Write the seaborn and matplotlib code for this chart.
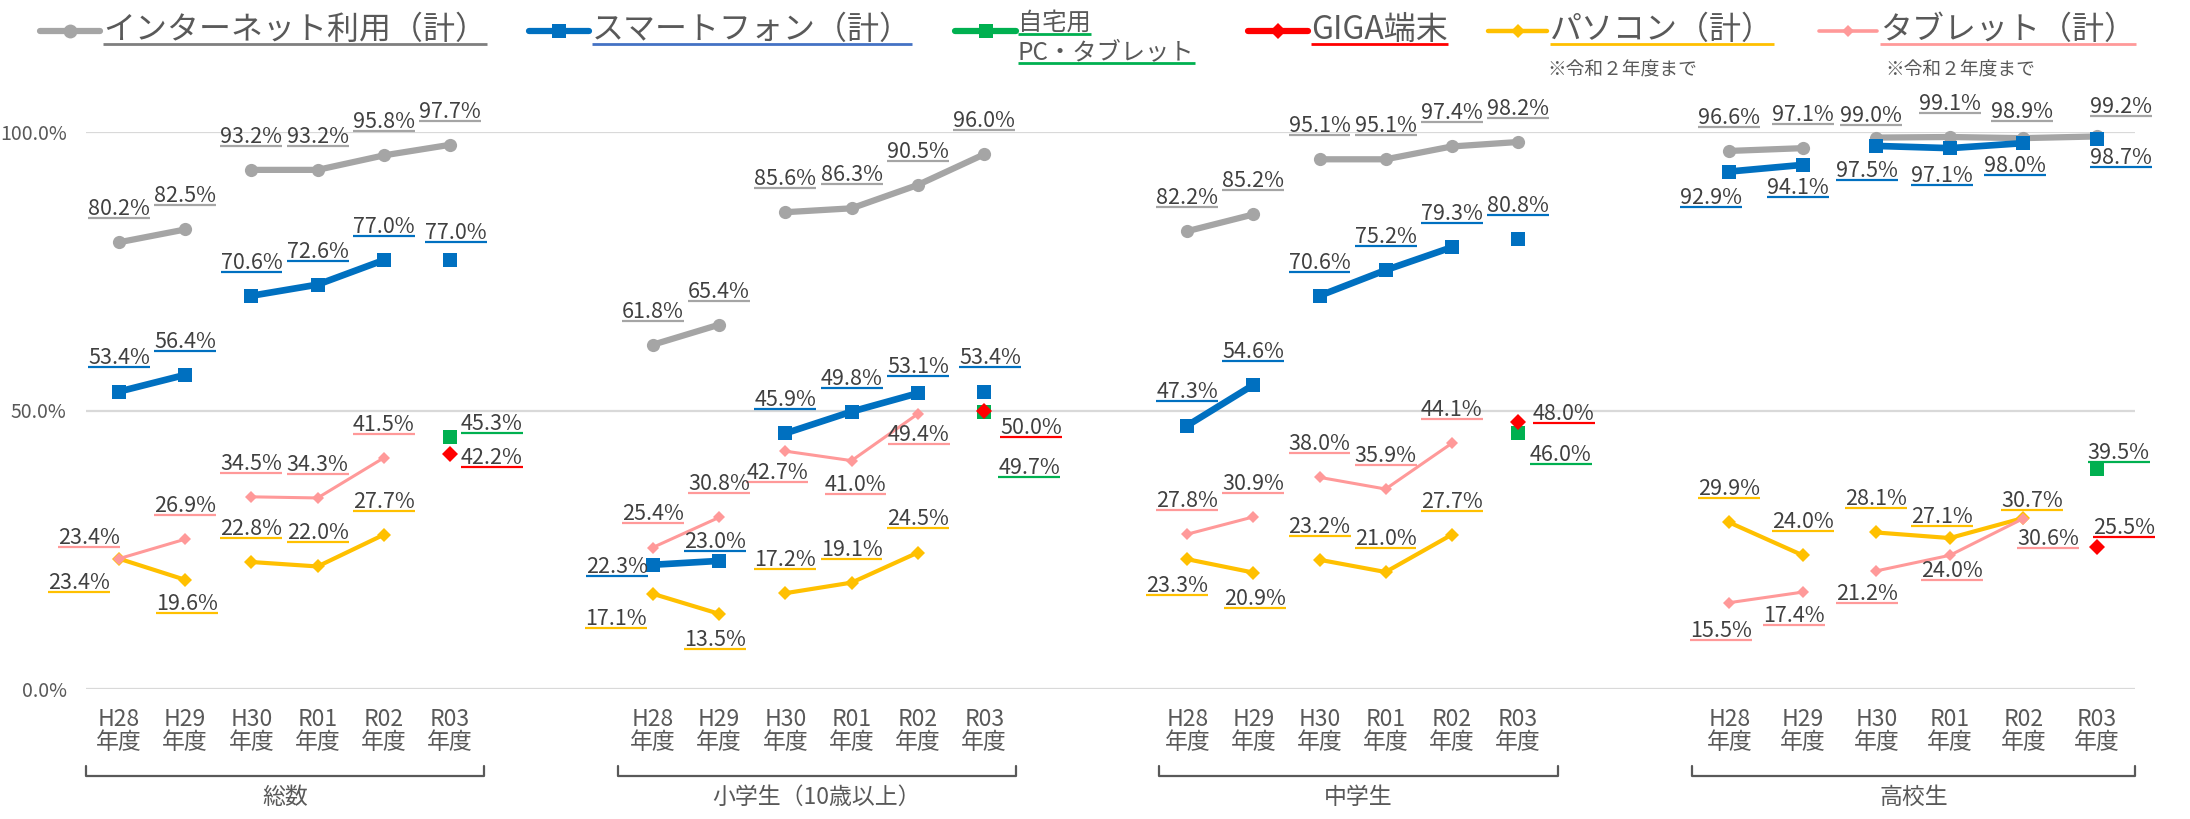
import numpy as np
import pandas as pd
import matplotlib
matplotlib.use("Agg")
import matplotlib.pyplot as plt
import seaborn as sns

sns.set_theme(style="white")
plt.rcParams["font.family"] = ["Noto Sans CJK JP", "DejaVu Sans"]

# ---------------- data ----------------
groups = ["総数", "小学生（10歳以上）", "中学生", "高校生"]
years = ["H28\n年度", "H29\n年度", "H30\n年度", "R01\n年度", "R02\n年度", "R03\n年度"]

internet = {
    "総数": [80.2, 82.5, 93.2, 93.2, 95.8, 97.7],
    "小学生（10歳以上）": [61.8, 65.4, 85.6, 86.3, 90.5, 96.0],
    "中学生": [82.2, 85.2, 95.1, 95.1, 97.4, 98.2],
    "高校生": [96.6, 97.1, 99.0, 99.1, 98.9, 99.2],
}
smartphone = {
    "総数": [53.4, 56.4, 70.6, 72.6, 77.0, 77.0],
    "小学生（10歳以上）": [22.3, 23.0, 45.9, 49.8, 53.1, 53.4],
    "中学生": [47.3, 54.6, 70.6, 75.2, 79.3, 80.8],
    "高校生": [92.9, 94.1, 97.5, 97.1, 98.0, 98.7],
}
home_pc_tablet = {"総数": 45.3, "小学生（10歳以上）": 49.7, "中学生": 46.0, "高校生": 39.5}
giga = {"総数": 42.2, "小学生（10歳以上）": 50.0, "中学生": 48.0, "高校生": 25.5}
pc = {
    "総数": [23.4, 19.6, 22.8, 22.0, 27.7],
    "小学生（10歳以上）": [17.1, 13.5, 17.2, 19.1, 24.5],
    "中学生": [23.3, 20.9, 23.2, 21.0, 27.7],
    "高校生": [29.9, 24.0, 28.1, 27.1, 30.7],
}
tablet = {
    "総数": [23.4, 26.9, 34.5, 34.3, 41.5],
    "小学生（10歳以上）": [25.4, 30.8, 42.7, 41.0, 49.4],
    "中学生": [27.8, 30.9, 38.0, 35.9, 44.1],
    "高校生": [15.5, 17.4, 21.2, 24.0, 30.6],
}

# ---------------- layout / style ----------------
W, H = 2190, 819
first_center = [119, 652.7, 1187.3, 1729.3]
step = [66.2, 66.3, 66.1, 73.5]
brackets = [(86, 484), (618, 1016), (1159, 1558), (1692, 2135)]

C_NET, C_SP, C_HOME, C_GIGA, C_PC, C_TAB = "#A5A5A5", "#0070C0", "#00B050", "#FF0000", "#FFC000", "#FF9999"
TXT = "#404040"
AXT = "#595959"

# segment breaks (index where a new line segment starts)
breaks = {"net": [2], "sp": [2, 5], "pc": [2], "tab": [2], "home": [], "giga": []}

# label offsets (dx, dy) in pixels (dy up), default above the point
DEF = (0, 35)
offsets = {
    ("sp", 0, 5): (6, 29), ("home", 0, 5): (42, 15), ("giga", 0, 5): (42, -2),
    ("tab", 0, 0): (-30, 23), ("pc", 0, 0): (-40, -22), ("pc", 0, 1): (2, -22),
    ("sp", 1, 0): (-36, 0), ("sp", 1, 1): (-4, 21), ("sp", 1, 4): (0, 28), ("sp", 1, 5): (6, 35),
    ("home", 1, 5): (45, -54), ("giga", 1, 5): (47, -16),
    ("tab", 1, 2): (-8, -20), ("tab", 1, 3): (4, -22), ("tab", 1, 4): (1, -19),
    ("pc", 1, 0): (-37, -23), ("pc", 1, 1): (-4, -24),
    ("giga", 2, 5): (46, 10), ("home", 2, 5): (43, -20),
    ("pc", 2, 0): (-10, -25), ("pc", 2, 1): (2, -25),
    ("net", 3, 2): (-5, 23), ("net", 3, 4): (-1, 28), ("net", 3, 5): (24, 31),
    ("sp", 3, 0): (-18, -25), ("sp", 3, 1): (-5, -21), ("sp", 3, 2): (-9, -23),
    ("sp", 3, 3): (-8, -26), ("sp", 3, 4): (-8, -21), ("sp", 3, 5): (24, -17),
    ("home", 3, 5): (22, 18), ("giga", 3, 5): (27, 21),
    ("pc", 3, 3): (-8, 23), ("pc", 3, 4): (9, 19),
    ("tab", 3, 0): (-8, -26), ("tab", 3, 1): (-9, -22), ("tab", 3, 2): (-9, -21),
    ("tab", 3, 3): (2, -14), ("tab", 3, 4): (25, -19),
}


def xpos(g, i):
    return first_center[g] + i * step[g]


def build(key, src, single=False):
    rows = []
    for g, name in enumerate(groups):
        vals = [src[name]] if single else src[name]
        idxs = [5] if single else list(range(len(vals)))
        for i, v in zip(idxs, vals):
            seg = sum(1 for b in breaks[key] if i >= b)
            rows.append({"x": xpos(g, i), "v": v, "seg": f"{g}-{seg}", "g": g, "i": i})
    return pd.DataFrame(rows)


series = [
    # key, data, color, marker, ms, lw
    ("net", build("net", internet), C_NET, "o", 9.5, 4.5),
    ("pc", build("pc", pc), C_PC, "D", 7.6, 3.0),
    ("tab", build("tab", tablet), C_TAB, "D", 6.3, 2.2),
    ("sp", build("sp", smartphone), C_SP, "s", 10, 4.8),
    ("home", build("home", home_pc_tablet, True), C_HOME, "s", 10, 3),
    ("giga", build("giga", giga, True), C_GIGA, "D", 8.0, 3),
]
label_color = {"net": C_NET, "pc": C_PC, "tab": C_TAB, "sp": C_SP, "home": C_HOME, "giga": C_GIGA}

fig = plt.figure(figsize=(W / 100, H / 100), dpi=100)
ax = fig.add_axes([86 / W, 1 - 689 / H, (2135 - 86) / W, (689 - 132) / H])
ax.set_xlim(86, 2135)
ax.set_ylim(0, 100)

for z, (key, df, col, mk, ms, lw) in enumerate(series):
    n0 = len(ax.lines)
    sns.lineplot(data=df, x="x", y="v", units="seg", estimator=None, sort=False,
                 color=col, marker=mk, markersize=ms, markeredgewidth=0,
                 linewidth=lw, ax=ax, legend=False)
    for ln in ax.lines[n0:]:
        ln.set_clip_on(False)
        ln.set_zorder(3 + z)
        ln.set_solid_capstyle("round")

ax.set_yticks([0, 50, 100])
ax.set_yticklabels(["0.0%", "50.0%", "100.0%"], fontsize=14, color=AXT)
ax.tick_params(axis="y", length=0, pad=14)
xt = [xpos(g, i) for g in range(4) for i in range(6)]
ax.set_xticks(xt)
ax.set_xticklabels(years * 4, fontsize=16.5, color=AXT, linespacing=1.0)
ax.tick_params(axis="x", length=0, pad=14)
ax.grid(axis="y", color="#D9D9D9", linewidth=1.6)
ax.grid(axis="x", visible=False)
ax.set_xlabel("")
ax.set_ylabel("")
for s in ax.spines.values():
    s.set_visible(False)

# overlay in pixel coordinates (y down)
ov = fig.add_axes([0, 0, 1, 1], zorder=10)
ov.set_xlim(0, W)
ov.set_ylim(H, 0)
ov.axis("off")

renderer = fig.canvas.get_renderer()
FS = 15.5


def underlined(x, ycenter, s, color, fs, tcolor, ha="center", gap=3.0, lw=1.6):
    base = ycenter + 0.733 * fs * 100 / 72 / 2
    t = ov.text(x, base, s, fontsize=fs, color=tcolor, ha=ha, va="baseline")
    bb = t.get_window_extent(renderer=renderer)
    ov.plot([bb.x0, bb.x1], [base + gap, base + gap], color=color, lw=lw,
            solid_capstyle="butt")
    return t


for key, df, col, mk, ms, lw in series:
    for _, r in df.iterrows():
        dx, dy = offsets.get((key, int(r.g), int(r.i)), DEF)
        xd, yd = ax.transData.transform((r.x, r.v))
        px = xd + dx
        py = H - (yd + dy)
        underlined(px, py, f"{r.v:.1f}%", label_color[key], FS, TXT)

# brackets and group labels
for g, (b0, b1) in enumerate(brackets):
    ov.plot([b0, b0, b1, b1], [766, 776, 776, 766], color=AXT, lw=1.6)
    ov.text((b0 + b1) / 2, 797, groups[g], fontsize=16.5, color=AXT, ha="center", va="center")

# legend
LFS = 23
leg = [
    # x0, x1, color, marker, ms, lw, text, underline color
    (40, 100, C_NET, "o", 10, 4.5, "インターネット利用（計）", "#7F7F7F"),
    (529, 589, C_SP, "s", 10, 4.5, "スマートフォン（計）", "#4472C4"),
    (1248, 1308, C_GIGA, "D", 8, 4.5, "GIGA端末", C_GIGA),
    (1488, 1547, C_PC, "D", 7, 3.2, "パソコン（計）", C_PC),
    (1819, 1877, C_TAB, "D", 6.5, 2.6, "タブレット（計）", C_TAB),
]
for x0, x1, col, mk, ms, lw, txt, ucol in leg:
    ov.plot([x0, x1], [31, 31], color=col, lw=lw, solid_capstyle="round")
    ov.plot([(x0 + x1) / 2], [31], marker=mk, ms=ms, color=col, mew=0)
    underlined(x1 + 3, 27, txt, ucol, LFS, AXT, ha="left", gap=5, lw=2)

# two-line green legend entry
ov.plot([955, 1016], [31, 31], color=C_HOME, lw=4.5, solid_capstyle="round")
ov.plot([985.5], [31], marker="s", ms=10, color=C_HOME, mew=0)
underlined(1018, 21, "自宅用", C_HOME, 17.5, AXT, ha="left", gap=4, lw=2)
underlined(1018, 50, "PC・タブレット", C_HOME, 17.5, AXT, ha="left", gap=4, lw=2)

# notes
ov.text(1547, 70, "※令和２年度まで", fontsize=13.5, color=AXT, ha="left", va="center")
ov.text(1885, 70, "※令和２年度まで", fontsize=13.5, color=AXT, ha="left", va="center")

fig.savefig("out.png", dpi=100, facecolor="white")
